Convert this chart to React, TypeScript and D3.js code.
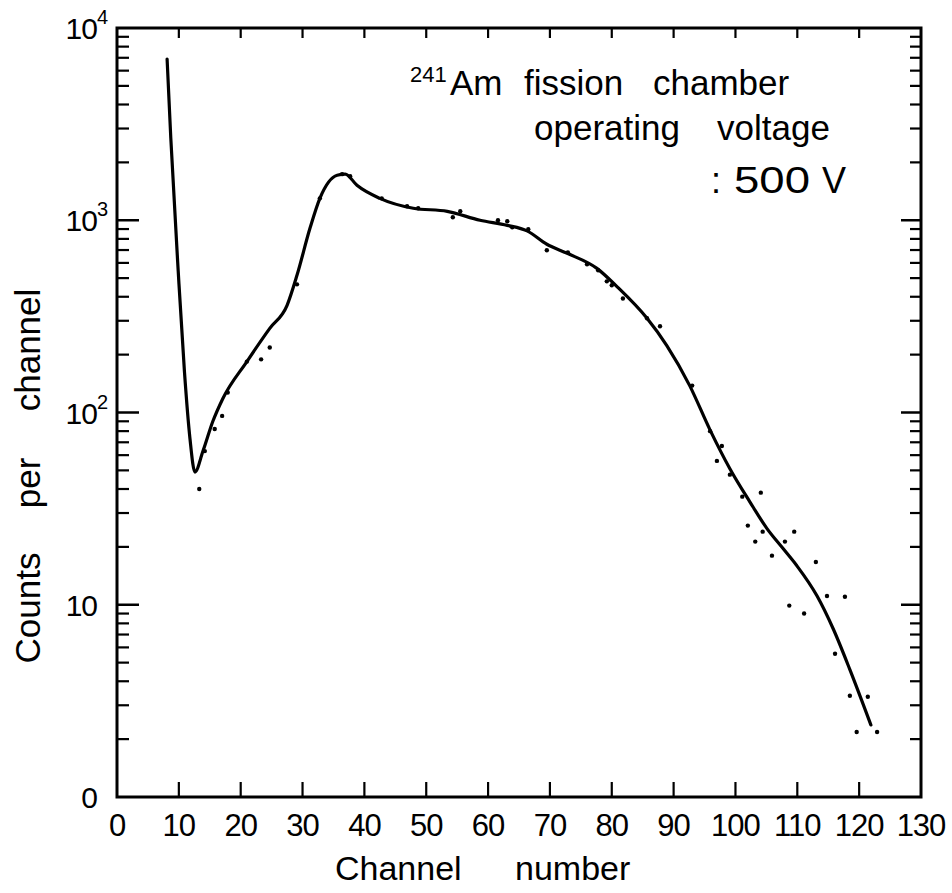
import React from 'react';
import * as d3 from 'd3';

// Smooth fitted curve (channel, counts)
const curveChannels = [8.1, 8.7, 9.9, 10.9, 11.8, 12.6, 13.9, 15.5, 17.1, 21.0, 24.7, 27.5, 29.1, 31.2, 32.8, 35.6, 36.9, 38.8, 42.5, 47.9, 53.4, 58.7, 63.1, 66.3, 69.5, 72.8, 77.6, 80.8, 85.7, 88.9, 92.6, 95.9, 99.1, 102.3, 105.1, 107.7, 109.9, 113.2, 115.8, 118.5, 121.9];
const curveCounts = [6900, 2670, 542, 164, 73, 49, 63, 90, 118, 184, 274, 361, 517, 908, 1300, 1715, 1737, 1520, 1300, 1155, 1113, 1000, 941, 880, 750, 673, 562, 453, 309, 223, 138, 81, 51, 34.4, 24.9, 19.6, 16, 11.1, 7.5, 4.6, 2.37];

// Measured points (channel, counts)
const dotChannels = [13.3, 14.2, 15.8, 17.0, 17.9, 21.0, 23.3, 24.7, 29.1, 32.8, 36.4, 37.7, 42.8, 46.9, 48.7, 54.3, 55.5, 61.6, 63.1, 63.9, 66.5, 69.5, 72.9, 76.0, 77.8, 79.2, 80.0, 81.8, 85.7, 87.8, 93.0, 95.9, 97.8, 97.0, 99.1, 101.1, 104.1, 102.0, 104.4, 103.2, 108.0, 109.5, 105.9, 113.0, 114.8, 117.7, 108.7, 111.1, 116.1, 118.5, 121.4, 119.6, 122.9];
const dotCounts = [40, 63, 82, 96, 127, 184, 189, 218, 464, 1300, 1737, 1694, 1300, 1183, 1155, 1037, 1114, 1000, 988, 920, 898, 698, 681, 590, 549, 481, 459, 392, 309, 281, 138, 80, 67, 56, 47.5, 36.5, 38.3, 25.8, 24, 21.3, 21.3, 24, 18, 16.7, 11.1, 11, 9.9, 9.0, 5.56, 3.36, 3.32, 2.18, 2.18];

const xTickValues = [0, 10, 20, 30, 40, 50, 60, 70, 80, 90, 100, 110, 120, 130];
const yDecades = [1, 10, 100, 1000, 10000];
const yTickBase = ['0', '10', '10', '10', '10'];
const yTickExp = ['', '', '2', '3', '4'];

const FONT = '"Liberation Sans", Arial, sans-serif';

export default function App() {
  const L = 117, R = 921, T = 28, B = 797;
  const x = d3.scaleLinear().domain([0, 130]).range([L, R]);
  const y = d3.scaleLog().domain([1, 10000]).range([B, T]);

  const curveData = curveChannels.map((c, i) => [x(c), y(curveCounts[i])] as [number, number]);
  const line = d3.line().curve(d3.curveMonotoneX)(curveData) || '';

  const minor: number[] = [];
  yDecades.slice(0, 4).forEach((d) => {
    for (let k = 2; k <= 9; k++) minor.push(k * d);
  });
  const innerX = xTickValues.filter((v) => v > 0 && v < 130);

  return (
    <svg width={952} height={893} style={{ position: 'absolute', left: 0, top: 0, background: '#fff' }} fontFamily={FONT}>
      <rect x={0} y={0} width={952} height={893} fill="#fff" />
      {/* frame */}
      <rect x={L} y={T} width={R - L} height={B - T} fill="none" stroke="#000" strokeWidth={3} />
      {/* y ticks left & right */}
      {yDecades.slice(1, 4).map((d) => (
        <g key={'M' + d}>
          <line x1={L} x2={L + 22} y1={y(d)} y2={y(d)} stroke="#000" strokeWidth={2.5} />
          <line x1={R} x2={R - 20} y1={y(d)} y2={y(d)} stroke="#000" strokeWidth={2.5} />
        </g>
      ))}
      {minor.map((v) => (
        <g key={'m' + v}>
          <line x1={L} x2={L + 12} y1={y(v)} y2={y(v)} stroke="#000" strokeWidth={2.2} />
          <line x1={R} x2={R - 11} y1={y(v)} y2={y(v)} stroke="#000" strokeWidth={2.2} />
        </g>
      ))}
      {/* x ticks */}
      {innerX.map((v) => (
        <g key={'x' + v}>
          <line x1={x(v)} x2={x(v)} y1={B} y2={B - 15} stroke="#000" strokeWidth={2.2} />
          <line x1={x(v)} x2={x(v)} y1={T} y2={T + 10} stroke="#000" strokeWidth={2.2} />
        </g>
      ))}
      {/* x tick labels */}
      {xTickValues.map((v) => (
        <text key={'xl' + v} x={x(v)} y={836} fontSize={31} textAnchor="middle" letterSpacing={-1}>
          {String(v)}
        </text>
      ))}
      {/* y tick labels */}
      {yDecades.map((d, i) => (
        <text key={'yl' + d} x={yTickExp[i] ? 107 : 97} y={y(d) + 11} fontSize={30} textAnchor="end" letterSpacing={-1}>
          {yTickBase[i]}
          {yTickExp[i] ? (
            <tspan fontSize={20} dy={-15}>
              {yTickExp[i]}
            </tspan>
          ) : null}
        </text>
      ))}
      {/* curve */}
      <path d={line} fill="none" stroke="#000" strokeWidth={3.2} strokeLinejoin="round" strokeLinecap="round" />
      {/* dots */}
      {dotChannels.map((c, i) => (
        <circle key={'d' + i} cx={x(c)} cy={y(dotCounts[i])} r={2.2} fill="#000" />
      ))}
      {/* annotation */}
      <text x={410} y={82} fontSize={22}>241</text>
      <text x={450} y={95} fontSize={35}>Am</text>
      <text x={524} y={95} fontSize={35}>fission</text>
      <text x={653} y={95} fontSize={35}>chamber</text>
      <text x={534} y={140} fontSize={35}>operating</text>
      <text x={717} y={140} fontSize={35}>voltage</text>
      <text x={711} y={193} fontSize={36}>:</text>
      <text x={734} y={193} fontSize={36} textLength={76} lengthAdjust="spacingAndGlyphs">500</text>
      <text x={822} y={193} fontSize={36}>V</text>
      {/* axis titles */}
      <text transform="translate(40,608) rotate(-90)" fontSize={35} textAnchor="middle">Counts</text>
      <text transform="translate(40,483) rotate(-90)" fontSize={35} textAnchor="middle">per</text>
      <text transform="translate(40,350) rotate(-90)" fontSize={35} textAnchor="middle">channel</text>
      <text x={335} y={880} fontSize={34}>Channel</text>
      <text x={515} y={880} fontSize={34}>number</text>
    </svg>
  );
}
